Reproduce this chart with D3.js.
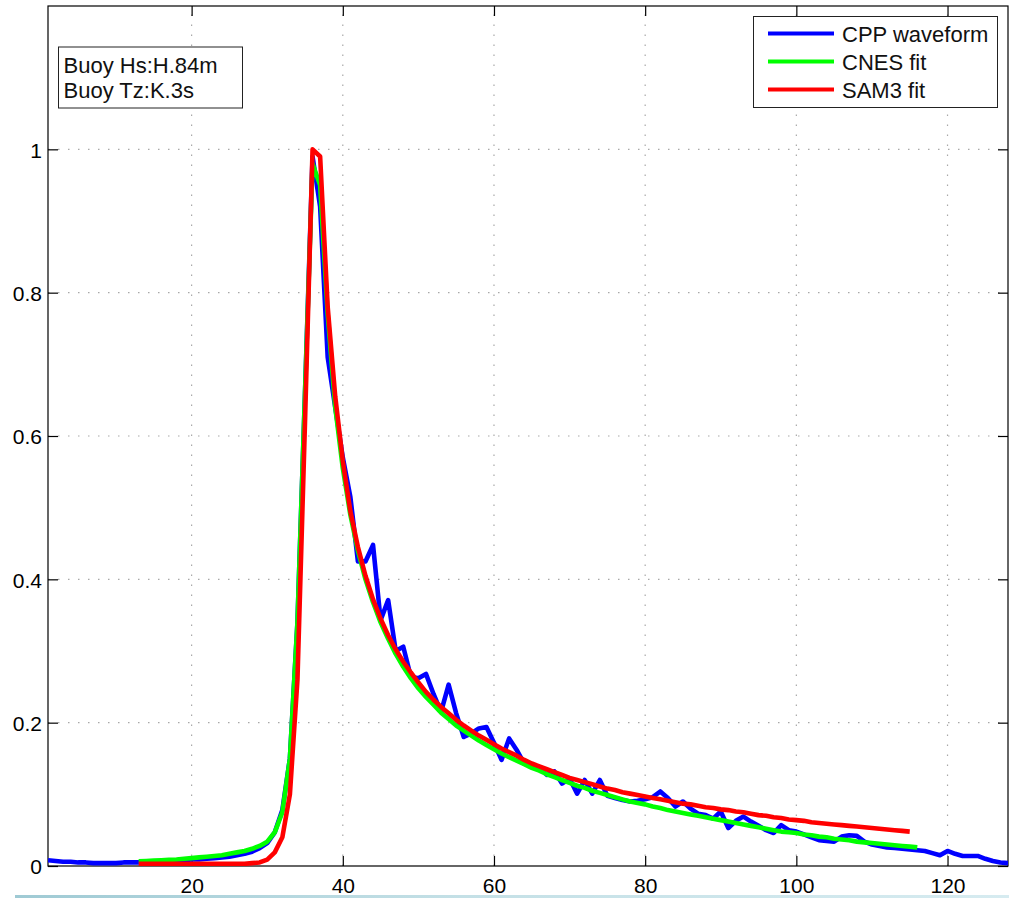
<!DOCTYPE html>
<html>
<head>
<meta charset="utf-8">
<script src="https://cdn.jsdelivr.net/npm/d3@7"></script>
<style>
  html, body { margin: 0; padding: 0; background: #ffffff; }
  svg { display: block; font-family: "Liberation Sans", Arial, Helvetica, sans-serif; }
</style>
</head>
<body>
<svg id="chart" width="1009" height="898"></svg>
<script>
// Range gate index of the first sample in each series
const waveformStartGate = 1;
const cnesStartGate = 13;
const sam3StartGate = 13;

// Normalised CPP waveform power, gates 1..128
const cppWaveform = [
  0.008, 0.007, 0.006, 0.006, 0.005, 0.005, 0.004, 0.004, 0.004, 0.004,
  0.005, 0.005, 0.005, 0.005, 0.006, 0.006, 0.007, 0.007, 0.008, 0.009,
  0.009, 0.010, 0.011, 0.012, 0.013, 0.015, 0.017, 0.020, 0.025, 0.032,
  0.047, 0.078, 0.150, 0.340, 0.660, 0.990, 0.920, 0.710, 0.640, 0.570,
  0.515, 0.425, 0.425, 0.448, 0.343, 0.371, 0.300, 0.306, 0.264, 0.262,
  0.268, 0.240, 0.215, 0.253, 0.213, 0.180, 0.185, 0.192, 0.194, 0.172,
  0.148, 0.178, 0.162, 0.143, 0.140, 0.138, 0.127, 0.132, 0.115, 0.122,
  0.101, 0.120, 0.101, 0.120, 0.098, 0.095, 0.092, 0.090, 0.091, 0.093,
  0.096, 0.104, 0.095, 0.083, 0.090, 0.080, 0.073, 0.071, 0.066, 0.076,
  0.053, 0.063, 0.069, 0.062, 0.056, 0.050, 0.046, 0.057, 0.050, 0.048,
  0.044, 0.040, 0.036, 0.035, 0.034, 0.041, 0.043, 0.042, 0.034, 0.030,
  0.028, 0.026, 0.025, 0.024, 0.023, 0.022, 0.021, 0.018, 0.015, 0.021,
  0.017, 0.014, 0.014, 0.014, 0.010, 0.007, 0.005, 0.004
];

// CNES retracker fit, gates 13..116
const cnesFit = [
  0.0065, 0.007, 0.0075, 0.008, 0.0085, 0.009, 0.010, 0.011, 0.012, 0.013,
  0.014, 0.015, 0.017, 0.019, 0.021, 0.024, 0.028, 0.034, 0.047, 0.075,
  0.150, 0.340, 0.660, 0.980, 0.950, 0.770, 0.640, 0.555, 0.490, 0.440,
  0.400, 0.368, 0.340, 0.317, 0.296, 0.278, 0.262, 0.248, 0.236, 0.225,
  0.214, 0.205, 0.196, 0.189, 0.182, 0.175, 0.169, 0.163, 0.157, 0.152,
  0.147, 0.142, 0.137, 0.133, 0.128, 0.124, 0.120, 0.116, 0.112, 0.109,
  0.105, 0.102, 0.099, 0.096, 0.093, 0.090, 0.088, 0.086, 0.083, 0.081,
  0.078, 0.076, 0.074, 0.072, 0.070, 0.068, 0.066, 0.064, 0.062, 0.060,
  0.058, 0.056, 0.054, 0.052, 0.050, 0.048, 0.047, 0.046, 0.044, 0.043,
  0.041, 0.040, 0.038, 0.037, 0.036, 0.034, 0.033, 0.032, 0.031, 0.030,
  0.029, 0.028, 0.027, 0.026
];

// SAM3 retracker fit, gates 13..115
const sam3Fit = [
  0.003, 0.003, 0.003, 0.003, 0.003, 0.003, 0.003, 0.003, 0.003, 0.003,
  0.003, 0.003, 0.003, 0.003, 0.003, 0.004, 0.005, 0.009, 0.019, 0.040,
  0.100, 0.260, 0.620, 1.000, 0.990, 0.780, 0.655, 0.565, 0.495, 0.445,
  0.405, 0.372, 0.345, 0.322, 0.302, 0.285, 0.270, 0.256, 0.243, 0.232,
  0.222, 0.213, 0.204, 0.196, 0.189, 0.182, 0.176, 0.170, 0.164, 0.159,
  0.154, 0.148, 0.143, 0.139, 0.135, 0.131, 0.127, 0.123, 0.120, 0.117,
  0.114, 0.111, 0.108, 0.106, 0.103, 0.101, 0.099, 0.097, 0.095, 0.093,
  0.091, 0.089, 0.087, 0.086, 0.084, 0.082, 0.081, 0.079, 0.078, 0.076,
  0.075, 0.073, 0.071, 0.070, 0.068, 0.067, 0.065, 0.064, 0.063, 0.061,
  0.060, 0.059, 0.058, 0.057, 0.056, 0.055, 0.054, 0.053, 0.052, 0.051,
  0.050, 0.049, 0.048
];

const xTicks = [20, 40, 60, 80, 100, 120];
const yTicks = [0, 0.2, 0.4, 0.6, 0.8, 1];
const xDomain = [1, 128];
const yDomain = [0, 1.2];

const seriesNames = ["CPP waveform", "CNES fit", "SAM3 fit"];
const seriesColors = ["#0000ff", "#00ff00", "#ff0000"];
const infoLines = ["Buoy Hs:H.84m", "Buoy Tz:K.3s"];

const svg = d3.select("#chart");
const plot = { left: 48, right: 1008, top: 6, bottom: 866 };

const x = d3.scaleLinear().domain(xDomain).range([plot.left, plot.right]);
const y = d3.scaleLinear().domain(yDomain).range([plot.bottom, plot.top]);

// thin strip along the bottom edge of the figure
const grad = svg.append("defs").append("linearGradient")
  .attr("id", "strip").attr("x1", "0").attr("x2", "1").attr("y1", "0").attr("y2", "0");
grad.append("stop").attr("offset", "0").attr("stop-color", "#9fcad4");
grad.append("stop").attr("offset", "0.45").attr("stop-color", "#c4e0e6");
grad.append("stop").attr("offset", "1").attr("stop-color", "#d6ebf0");

// dotted grid
const gridStyle = g => g.attr("stroke", "#a8a8a8").attr("stroke-width", 1.2)
  .attr("stroke-dasharray", "1.5,8.5");
svg.append("g").selectAll("line").data(xTicks).join("line")
  .attr("x1", d => x(d)).attr("x2", d => x(d))
  .attr("y1", plot.bottom).attr("y2", plot.top)
  .call(gridStyle);
svg.append("g").selectAll("line").data(yTicks.filter(d => d > 0)).join("line")
  .attr("x1", plot.left).attr("x2", plot.right)
  .attr("y1", d => y(d)).attr("y2", d => y(d))
  .call(gridStyle);

// axes with inward ticks on all four sides
const tickFont = "21px";
const styleAxis = g => {
  g.select(".domain").remove();
  g.selectAll(".tick line").attr("stroke", "#000").attr("stroke-width", 1.2);
  g.selectAll(".tick text").attr("fill", "#000").style("font-size", tickFont)
    .style("font-family", "\"Liberation Sans\", Arial, Helvetica, sans-serif");
};
svg.append("g").attr("transform", `translate(0,${plot.bottom})`)
  .call(d3.axisBottom(x).tickValues(xTicks).tickSize(-10).tickPadding(12).tickFormat(d3.format("d")))
  .call(styleAxis);
svg.append("g").attr("transform", `translate(0,${plot.top})`)
  .call(d3.axisTop(x).tickValues(xTicks).tickSize(-10).tickFormat(""))
  .call(styleAxis);
svg.append("g").attr("transform", `translate(${plot.left},0)`)
  .call(d3.axisLeft(y).tickValues(yTicks).tickSize(-10).tickPadding(6).tickFormat(d3.format("~g")))
  .call(styleAxis)
  .call(g => g.selectAll(".tick text").attr("dy", "0.38em"));
svg.append("g").attr("transform", `translate(${plot.right},0)`)
  .call(d3.axisRight(y).tickValues(yTicks).tickSize(-10).tickFormat(""))
  .call(styleAxis);

// box around the axes
svg.append("rect")
  .attr("x", plot.left).attr("y", plot.top)
  .attr("width", plot.right - plot.left).attr("height", plot.bottom - plot.top)
  .attr("fill", "none").attr("stroke", "#000").attr("stroke-width", 1.2);

// curves
const series = [
  { start: waveformStartGate, values: cppWaveform },
  { start: cnesStartGate, values: cnesFit },
  { start: sam3StartGate, values: sam3Fit }
];
const line = d3.line().x(d => x(d[0])).y(d => y(d[1]));
svg.append("clipPath").attr("id", "plotClip").append("rect")
  .attr("x", plot.left).attr("y", plot.top)
  .attr("width", plot.right - plot.left).attr("height", plot.bottom - plot.top);
const curves = svg.append("g").attr("clip-path", "url(#plotClip)");
series.forEach((s, i) => {
  const pts = s.values.map((v, k) => [s.start + k, v]);
  curves.append("path")
    .attr("d", line(pts))
    .attr("fill", "none")
    .attr("stroke", seriesColors[i])
    .attr("stroke-width", 4.6)
    .attr("stroke-linejoin", "round")
    .attr("stroke-linecap", "butt");
});

// annotation box with buoy parameters
const info = svg.append("g");
info.append("rect")
  .attr("x", 58.5).attr("y", 47).attr("width", 184).attr("height", 61)
  .attr("fill", "#fff").attr("stroke", "#222").attr("stroke-width", 1);
info.selectAll("text").data(infoLines).join("text")
  .attr("x", 63.5).attr("y", (d, i) => 72.5 + i * 25)
  .style("font-size", "22px").attr("fill", "#111")
  .text(d => d);

// legend
const legend = svg.append("g");
legend.append("rect")
  .attr("x", 753.5).attr("y", 16.5).attr("width", 244).attr("height", 91)
  .attr("fill", "#fff").attr("stroke", "#222").attr("stroke-width", 1);
seriesNames.forEach((name, i) => {
  const ly = 33.5 + i * 28;
  legend.append("line")
    .attr("x1", 768).attr("x2", 834).attr("y1", ly).attr("y2", ly)
    .attr("stroke", seriesColors[i]).attr("stroke-width", 4.2);
  legend.append("text")
    .attr("x", 842).attr("y", ly + 8.5)
    .style("font-size", "22px").attr("fill", "#111")
    .text(name);
});

svg.append("rect")
  .attr("x", 15).attr("y", 895).attr("width", 994).attr("height", 3)
  .attr("fill", "url(#strip)");
</script>
</body>
</html>
